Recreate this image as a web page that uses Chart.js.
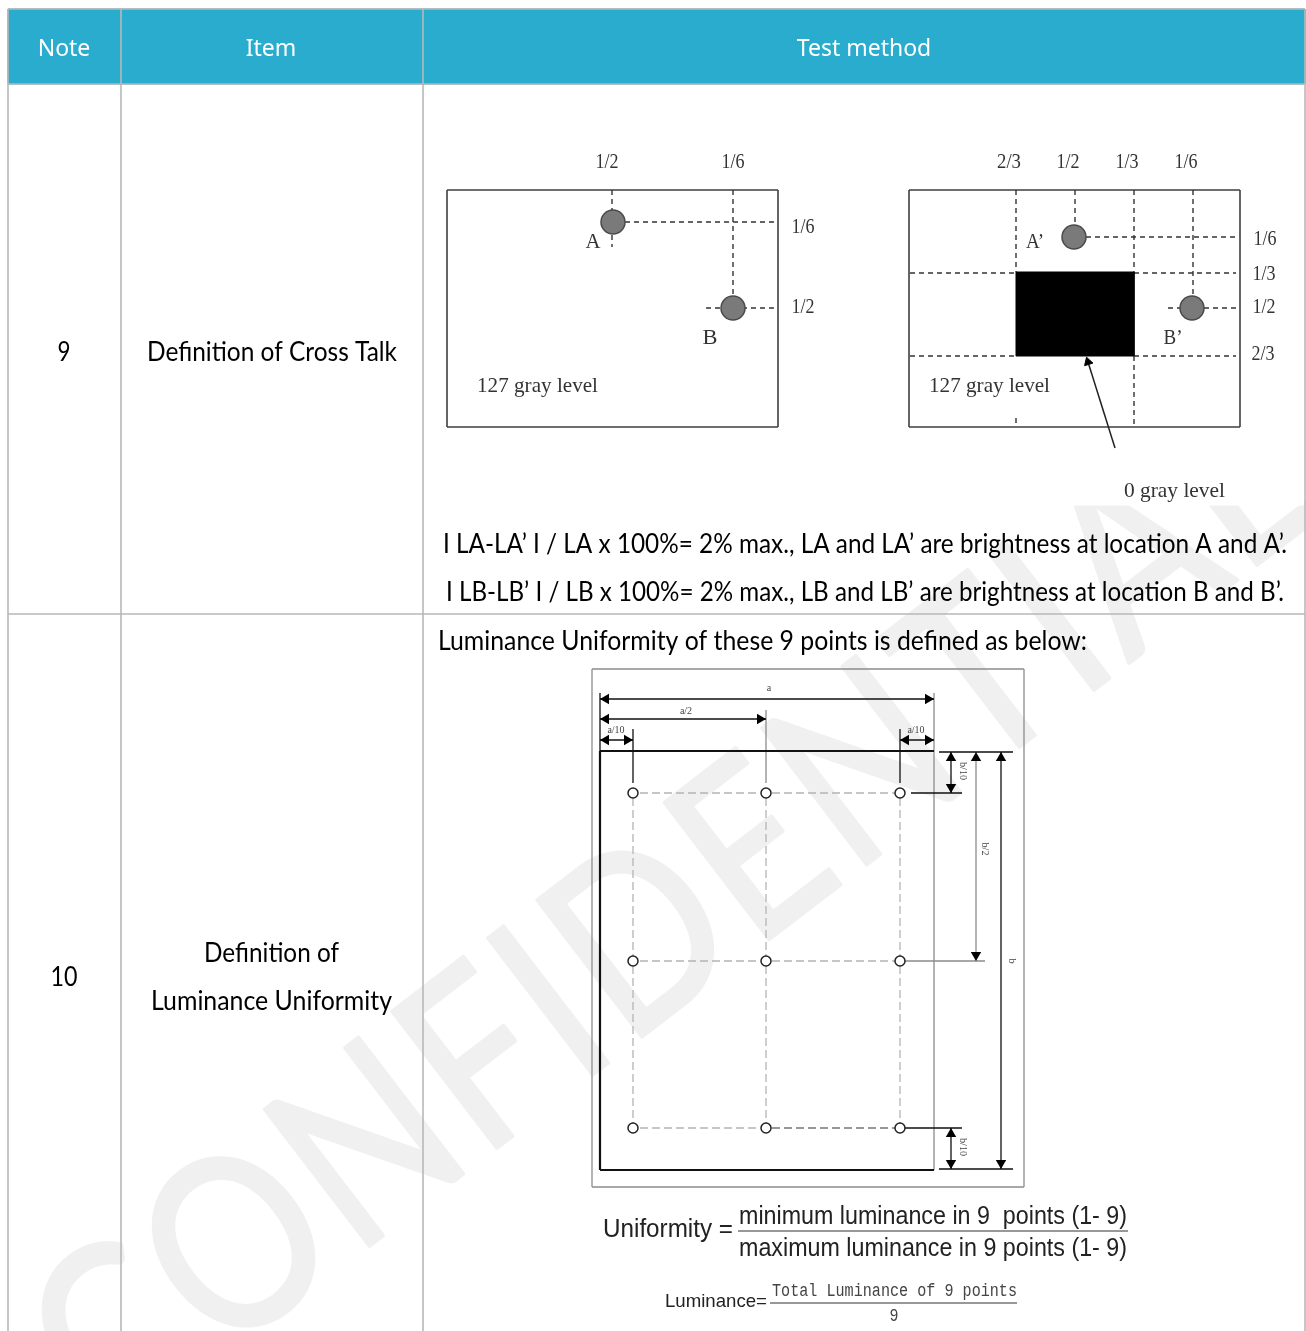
<!DOCTYPE html>
<html>
<head>
<meta charset="utf-8">
<title>Test method</title>
<style>
  html, body { margin: 0; padding: 0; background: #fff; }
  canvas { display: block; }
</style>
<script src="https://cdn.jsdelivr.net/npm/chart.js@4/dist/chart.umd.min.js"></script>
</head>
<body>
<canvas id="sheet" width="1306" height="1331"></canvas>
<script>
// page space: one unit = one pixel of the sheet
const sheetWidth = 1306;
const sheetHeight = 1331;

// table
const headerBox = [[8, 9], [1305, 9], [1305, 84], [8, 84], [8, 9]];
const tableRules = [
  [8, 9, 1305, 9], [8, 84, 1305, 84], [8, 614, 1305, 614],
  [8, 9, 8, 1331], [121, 9, 121, 1331], [423, 9, 423, 1331], [1305, 9, 1305, 1331]
];
const headerLabels = ['Note', 'Item', 'Test method'];
const headerX = [64, 271, 864];
const bodyLabels = ['9', '10', 'Definition of Cross Talk', 'Definition of', 'Luminance Uniformity',
  'I LA-LA’ I / LA x 100%= 2% max., LA and LA’ are brightness at location A and A’.',
  'I LB-LB’ I / LB x 100%= 2% max., LB and LB’ are brightness at location B and B’.',
  'Luminance Uniformity of these 9 points is defined as below:'];
const bodyX = [64, 64, 272, 271.5, 271.5, 865, 865, 762.5];
const bodyY = [352, 977, 352, 953, 1001, 544, 592, 641];
const bodyW = [13, 27, 250, 135, 241, 844, 838, 649];

// cross talk diagrams, the pasted picture hides the watermark behind it
const pictureBox = [[430, 100], [1303, 100], [1303, 505], [430, 505], [430, 100]];
const crossFrames = [
  [447, 190, 778, 190], [778, 190, 778, 427], [778, 427, 447, 427], [447, 427, 447, 190],
  [909, 190, 1240, 190], [1240, 190, 1240, 427], [1240, 427, 909, 427], [909, 427, 909, 190]
];
const crossDashes = [
  [612, 190, 612, 247], [625, 222, 778, 222], [733, 190, 733, 298], [706, 308, 775, 308],
  [1016, 190, 1016, 272], [1016, 418, 1016, 427], [1075, 190, 1075, 226],
  [1134, 190, 1134, 272], [1134, 356, 1134, 427], [1193, 190, 1193, 297],
  [1086, 237, 1236, 237], [910, 273, 1016, 273], [1134, 273, 1236, 273],
  [1168, 308, 1237, 308], [910, 356, 1016, 356], [1134, 356, 1236, 356]
];
const grayBlock = [[1016, 272], [1134, 272], [1134, 356], [1016, 356], [1016, 272]];
const pointerLine = [[1115, 448], [1088, 362]];
const pointerTip = [[1088, 362]];
const pointerTurn = [-17];
const spotX = [613, 733, 1074, 1192];
const spotY = [222, 308, 237, 308];
const crossLabels = ['1/2', '1/6', '1/6', '1/2', 'A', 'B', '127 gray level',
  '2/3', '1/2', '1/3', '1/6', '1/6', '1/3', '1/2', '2/3', 'A’', 'B’', '127 gray level', '0 gray level'];
const crossX = [607, 733, 803, 803, 593, 710, 537.5,
  1009, 1068, 1127, 1186, 1265, 1264, 1264, 1263, 1035, 1173, 989.5, 1174.5];
const crossY = [162, 162, 227, 307, 242, 338, 386,
  162, 162, 162, 162, 239, 274, 307, 354, 242, 338, 386, 491];
const crossW = [23, 23, 23, 23, 15, 15, 121, 24, 23, 23, 23, 23, 23, 23, 23, 18, 19, 121, 101];

// uniformity diagram
const pointCols = [633, 766, 900];
const pointRows = [793, 961, 1128];
const lightFrame = [
  [592, 669, 1024, 669], [1024, 669, 1024, 1187], [1024, 1187, 592, 1187], [592, 1187, 592, 669],
  [934, 693, 934, 751], [934, 751, 934, 1170], [766, 710, 766, 783], [905, 961, 985, 961], [976, 752, 976, 961]
];
const panelFrame = [[600, 751, 934, 751], [600, 751, 600, 1170], [600, 1170, 934, 1170]];
const darkFrame = [
  [600, 693, 600, 751], [633, 729, 633, 783], [900, 729, 900, 783], [911, 793, 962, 793], [905, 1128, 962, 1128],
  [939, 752, 1013, 752], [939, 1169, 1013, 1169], [1001, 752, 1001, 1169], [951, 752, 951, 793],
  [951, 1128, 951, 1169], [600, 699, 934, 699], [600, 719, 766, 719], [600, 740, 633, 740], [900, 740, 934, 740]
];
const grayDashes = [
  [640, 793, 760, 793], [772, 793, 895, 793], [640, 961, 760, 961], [772, 961, 895, 961], [640, 1128, 760, 1128],
  [633, 798, 633, 956], [633, 966, 633, 1123], [766, 798, 766, 956], [766, 966, 766, 1123],
  [900, 798, 900, 956], [900, 966, 900, 1123]
];
const darkDashes = [[772, 1128, 895, 1128]];
const headX = [606, 928, 606, 760, 606, 627, 906, 928, 951, 951, 976, 976, 1001, 1001, 951, 951];
const headY = [699, 699, 719, 719, 740, 740, 740, 740, 758, 787, 758, 955, 758, 1163, 1134, 1163];
const headTurn = [-90, 90, -90, 90, -90, 90, -90, 90, 0, 180, 0, 180, 0, 180, 0, 180];
const sizeLabels = ['a', 'a/2', 'a/10', 'a/10'];
const sizeX = [769, 686, 616, 916];
const sizeY = [688, 711, 730, 730];
const sideLabels = ['b/10', 'b/2', 'b', 'b/10'];
const sideX = [963, 985, 1012, 963];
const sideY = [771, 849, 961, 1147];

// formulas
const formulaRules = [[738, 1231, 1128, 1231], [770, 1303, 1017, 1303]];
const sansLabels = ['Uniformity =', 'minimum luminance in 9  points (1- 9)', 'maximum luminance in 9 points (1- 9)'];
const sansX = [668, 933, 933];
const sansY = [1230, 1217, 1249];
const sansW = [130, 388, 388];
const totalLabels = ['Total Luminance of 9 points', '9'];
const totalX = [894.5, 894];
const totalY = [1291, 1316];
const totalW = [245, 9];
const stampText = 'CONFIDENTIAL';

function segments(list) {
  const pts = [];
  list.forEach(s => {
    pts.push({ x: s[0], y: s[1] }, { x: s[2], y: s[3] }, { x: s[2], y: null });
  });
  return pts;
}

function points(list) {
  return list.map(p => ({ x: p[0], y: p[1] }));
}

function lineSet(list, color, width, dash) {
  return {
    data: segments(list), showLine: true, pointRadius: 0, fill: false,
    borderColor: color, borderWidth: width, borderDash: dash || []
  };
}

function shapeSet(list, color) {
  return {
    data: points(list), showLine: true, pointRadius: 0, fill: 'shape', tension: 0,
    backgroundColor: color, borderColor: color, borderWidth: 1
  };
}

const gridPoints = [];
pointRows.forEach(y => pointCols.forEach(x => gridPoints.push({ x, y })));

// watermark goes under everything, the labels on top of the marks
const textPlugin = {
  id: 'sheetText',
  beforeDatasetsDraw(chart) {
    const { ctx, scales } = chart;
    ctx.save();
    ctx.translate(scales.x.getPixelForValue(111), scales.y.getPixelForValue(1444));
    ctx.rotate(-37.5 * Math.PI / 180);
    ctx.scale(0.85, 1);
    ctx.font = '240px Lato';
    ctx.letterSpacing = '6px';
    ctx.fillStyle = '#f0f0f0';
    ctx.strokeStyle = '#f0f0f0';
    ctx.lineWidth = 4;
    ctx.lineJoin = 'round';
    ctx.textBaseline = 'alphabetic';
    ctx.fillText(stampText, 0, 0);
    ctx.strokeText(stampText, 0, 0);
    ctx.restore();
  },
  afterDatasetsDraw(chart) {
    const { ctx, scales } = chart;
    const put = (text, x, y, width, turn) => {
      ctx.save();
      ctx.translate(scales.x.getPixelForValue(x), scales.y.getPixelForValue(y));
      if (turn) ctx.rotate(turn * Math.PI / 180);
      if (width) ctx.scale(width / ctx.measureText(text).width, 1);
      ctx.fillText(text, 0, 0);
      ctx.restore();
    };
    ctx.save();
    ctx.textAlign = 'center';
    ctx.textBaseline = 'middle';

    ctx.fillStyle = '#ffffff';
    ctx.font = '23px "Noto Sans"';
    headerLabels.forEach((t, i) => put(t, headerX[i], 49.5));

    ctx.fillStyle = '#000000';
    ctx.font = '27px Lato';
    bodyLabels.forEach((t, i) => put(t, bodyX[i], bodyY[i], bodyW[i]));

    ctx.fillStyle = '#333333';
    ctx.font = '21px "Liberation Serif"';
    crossLabels.forEach((t, i) => put(t, crossX[i], crossY[i], crossW[i]));

    ctx.fillStyle = '#444444';
    ctx.font = '10px "Liberation Serif"';
    sizeLabels.forEach((t, i) => put(t, sizeX[i], sizeY[i]));
    sideLabels.forEach((t, i) => put(t, sideX[i], sideY[i], 0, 90));

    ctx.fillStyle = '#222222';
    ctx.font = '25px "Liberation Sans"';
    sansLabels.forEach((t, i) => put(t, sansX[i], sansY[i], sansW[i]));
    ctx.font = '19px "Liberation Sans"';
    put('Luminance=', 716, 1302, 102);

    ctx.fillStyle = '#444444';
    ctx.font = '18px "Liberation Mono"';
    totalLabels.forEach((t, i) => put(t, totalX[i], totalY[i], totalW[i]));
    ctx.restore();
  }
};

// chart.js paints the lowest order last, so later entries here end up on top
const sheetSets = [
  shapeSet(pictureBox, '#ffffff'),
  shapeSet(headerBox, '#29acce'),
  lineSet(tableRules, '#b8b8b8', 1.6),
  lineSet(crossFrames, '#3f3f3f', 1.6),
  lineSet(crossDashes, '#333333', 1.4, [5, 4]),
  shapeSet(grayBlock, '#000000'),
  lineSet([[pointerLine[0][0], pointerLine[0][1], pointerLine[1][0], pointerLine[1][1]]], '#222222', 1.5),
  {
    data: points(pointerTip), pointStyle: 'triangle', pointRadius: 5,
    pointRotation: pointerTurn, backgroundColor: '#000000', borderColor: '#000000'
  },
  {
    data: spotX.map((x, i) => ({ x, y: spotY[i] })), pointStyle: 'circle', pointRadius: 12,
    backgroundColor: '#7a7a7a', borderColor: '#4a4a4a', borderWidth: 1.5
  },
  lineSet(lightFrame, '#8c8c8c', 1.3),
  lineSet(darkFrame, '#111111', 1.3),
  lineSet(panelFrame, '#111111', 2.2),
  lineSet(grayDashes, '#b4b4b4', 1.3, [8, 4]),
  lineSet(darkDashes, '#333333', 1.2, [8, 4]),
  lineSet(formulaRules, '#777777', 1.4),
  {
    data: headX.map((x, i) => ({ x, y: headY[i] })), pointStyle: 'triangle', pointRadius: 6,
    pointRotation: headTurn, backgroundColor: '#000000', borderColor: '#000000', borderWidth: 0
  },
  {
    data: gridPoints, pointStyle: 'circle', pointRadius: 5,
    backgroundColor: '#ffffff', borderColor: '#222222', borderWidth: 1.5
  }
];
sheetSets.forEach((d, i) => { d.order = -i; });

new Chart(document.getElementById('sheet').getContext('2d'), {
  type: 'scatter',
  data: { datasets: sheetSets },
  options: {
    responsive: false,
    animation: false,
    events: [],
    layout: { padding: 0, autoPadding: false },
    plugins: { legend: { display: false }, tooltip: { enabled: false }, title: { display: false } },
    scales: {
      x: { type: 'linear', display: false, min: 0, max: sheetWidth },
      y: { type: 'linear', display: false, min: 0, max: sheetHeight, reverse: true }
    }
  },
  plugins: [textPlugin]
});
</script>
</body>
</html>
